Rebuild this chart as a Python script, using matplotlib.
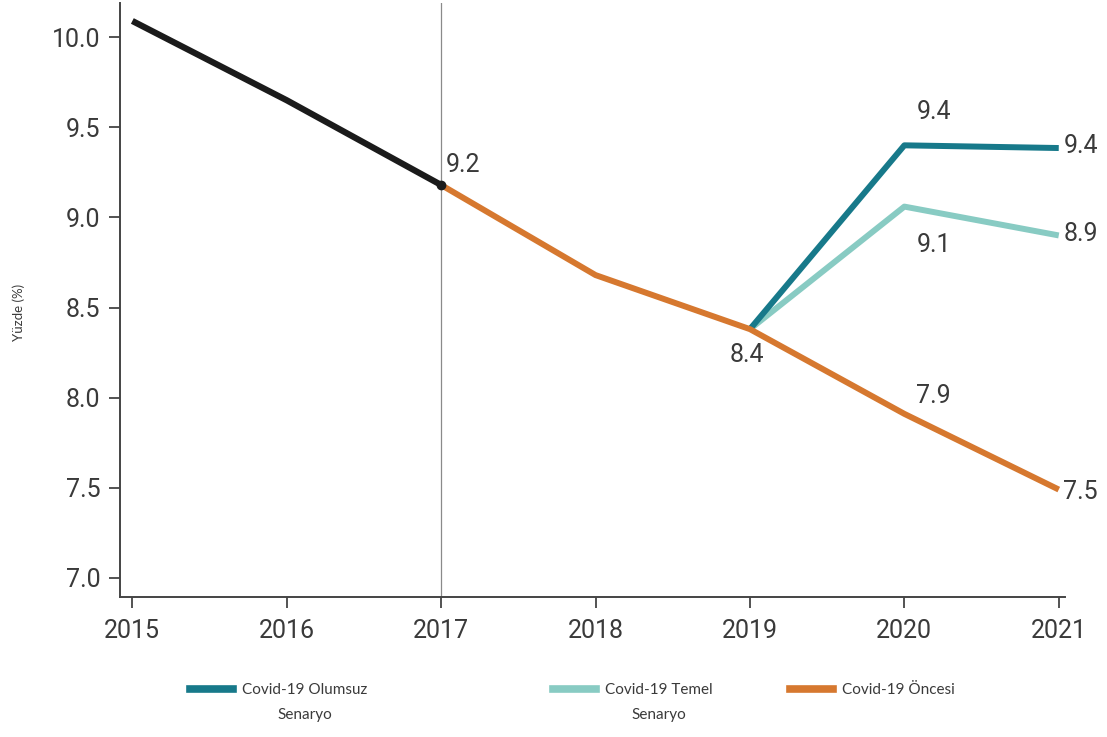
import matplotlib
matplotlib.use("Agg")
import matplotlib.pyplot as plt
from matplotlib.lines import Line2D

# data
years_hist = [2015, 2016, 2017]
rate_hist = [10.09, 9.65, 9.18]

years_pre = [2017, 2018, 2019, 2020, 2021]
rate_pre = [9.18, 8.68, 8.38, 7.91, 7.49]

years_scn = [2019, 2020, 2021]
rate_olumsuz = [8.38, 9.40, 9.385]
rate_temel = [8.38, 9.06, 8.90]

legend_labels = [('Covid-19 Olumsuz', 'Senaryo'),
                 ('Covid-19 Temel', 'Senaryo'),
                 ('Covid-19 Öncesi', '')]

COLORS = {
    'black': '#1b1b1b',
    'olumsuz': '#17798a',
    'temel': '#88cbc3',
    'oncesi': '#d6782f',
    'text': '#3a3a3a',
}

NUM_FONT = ['Roboto', 'DejaVu Sans']
LEG_FONT = ['Lato', 'DejaVu Sans']

fig = plt.figure(figsize=(11.07, 7.37), dpi=100)
ax = fig.add_axes([0.1084, 0.19, 0.962 - 0.1084, 0.996 - 0.19])

# marker line at 2017
ax.axvline(2017, color='#8a8a8a', lw=0.9, zorder=1)

ax.plot(years_pre, rate_pre, color=COLORS['oncesi'], lw=4.3,
        solid_capstyle='butt', zorder=3)
ax.plot(years_scn, rate_temel, color=COLORS['temel'], lw=4.3,
        solid_capstyle='butt', zorder=2)
ax.plot(years_scn, rate_olumsuz, color=COLORS['olumsuz'], lw=4.3,
        solid_capstyle='butt', zorder=2)
ax.plot(years_hist, rate_hist, color=COLORS['black'], lw=4.5,
        solid_capstyle='butt', zorder=4)
ax.plot([years_hist[-1]], [rate_hist[-1]], 'o', color=COLORS['black'],
        ms=6, zorder=5)

# value labels
lab_kw = dict(fontsize=18, color=COLORS['text'], family=NUM_FONT)
ax.text(2017.03, 9.29, '9.2', ha='left', va='center', **lab_kw)
ax.text(2018.98, 8.236, '8.4', ha='center', va='center', **lab_kw)
ax.text(2020.19, 9.584, '9.4', ha='center', va='center', **lab_kw)
ax.text(2020.19, 8.846, '9.1', ha='center', va='center', **lab_kw)
ax.text(2020.19, 8.01, '7.9', ha='center', va='center', **lab_kw)
ax.text(2021.03, 9.396, '9.4', ha='left', va='center', **lab_kw)
ax.text(2021.03, 8.907, '8.9', ha='left', va='center', **lab_kw)
ax.text(2021.03, 7.476, '7.5', ha='left', va='center', **lab_kw)

ax.set_xlim(2014.92, 2021.04)
ax.set_ylim(6.894, 10.19)
ax.set_xticks(range(2015, 2022))
yt = [7.0, 7.5, 8.0, 8.5, 9.0, 9.5, 10.0]
ax.set_yticks(yt)
ax.set_yticklabels([f'{v:.1f}' for v in yt])

for side in ['top', 'right']:
    ax.spines[side].set_visible(False)
for side in ['left', 'bottom']:
    ax.spines[side].set_color('#444444')
    ax.spines[side].set_linewidth(1.4)

ax.tick_params(axis='both', direction='out', length=8, width=1.3,
               color='#444444', labelcolor=COLORS['text'], labelsize=18)
ax.tick_params(axis='y', pad=6)
ax.tick_params(axis='x', pad=8)
for lbl in ax.get_xticklabels() + ax.get_yticklabels():
    lbl.set_family(NUM_FONT)

# y label sits far left, small
fig.text(0.017, 1 - 312 / 737, 'Yüzde (%)', rotation=90, ha='center', va='center',
         fontsize=9.5, color=COLORS['text'], family=LEG_FONT)

# legend: three separate entries, second line centred under the first
entries = [(legend_labels[0], COLORS['olumsuz'], 0.1716),
           (legend_labels[1], COLORS['temel'], 0.4995),
           (legend_labels[2], COLORS['oncesi'], 0.7136)]
legends = []
for (line1, line2), col, x0 in entries:
    h = Line2D([], [], color=col, lw=5.5)
    leg = fig.legend([h], [line1], loc='center left',
                     bbox_to_anchor=(x0, 1 - 690 / 737),
                     frameon=False, handlelength=2.8, handletextpad=0.6,
                     borderaxespad=0, borderpad=0,
                     prop={'family': LEG_FONT, 'size': 11})
    for t in leg.get_texts():
        t.set_color(COLORS['text'])
    legends.append((leg, line2))

fig.canvas.draw()
inv = fig.transFigure.inverted()
for leg, line2 in legends:
    if not line2:
        continue
    bb = leg.get_texts()[0].get_window_extent()
    cx, cy = inv.transform(((bb.x0 + bb.x1) / 2, (bb.y0 + bb.y1) / 2))
    fig.text(cx, cy - 25 / 737, line2, ha='center', va='center',
             fontsize=11, family=LEG_FONT, color=COLORS['text'])

fig.savefig('out.png', dpi=100)
